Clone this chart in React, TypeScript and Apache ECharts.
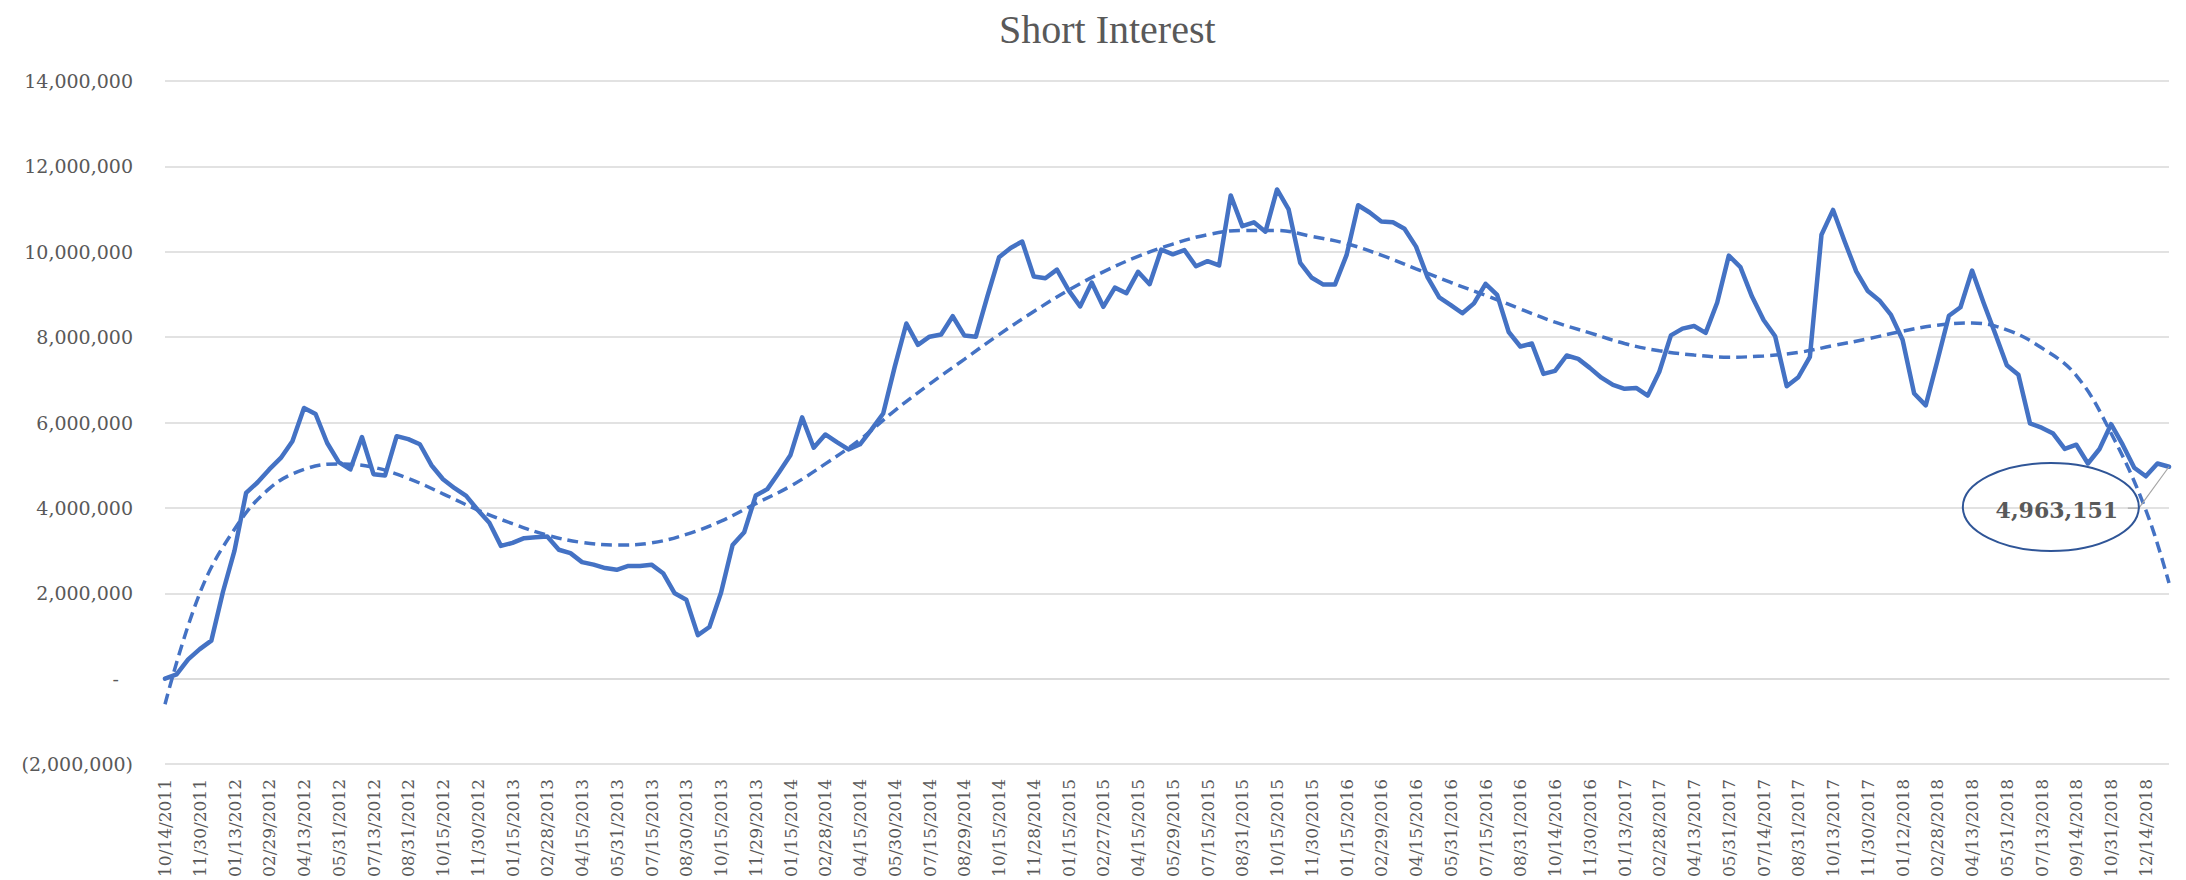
import React, { useEffect, useRef } from "react";
import * as echarts from "echarts";

const categories: string[] = [
  "10/14/2011", "10/31/2011", "11/15/2011", "11/30/2011", "12/15/2011", "12/30/2011",
  "01/13/2012", "01/31/2012", "02/15/2012", "02/29/2012", "03/15/2012", "03/30/2012",
  "04/13/2012", "04/30/2012", "05/15/2012", "05/31/2012", "06/15/2012", "06/29/2012",
  "07/13/2012", "07/31/2012", "08/15/2012", "08/31/2012", "09/14/2012", "09/28/2012",
  "10/15/2012", "10/31/2012", "11/15/2012", "11/30/2012", "12/14/2012", "12/31/2012",
  "01/15/2013", "01/31/2013", "02/15/2013", "02/28/2013", "03/15/2013", "03/28/2013",
  "04/15/2013", "04/30/2013", "05/15/2013", "05/31/2013", "06/14/2013", "06/28/2013",
  "07/15/2013", "07/31/2013", "08/15/2013", "08/30/2013", "09/13/2013", "09/30/2013",
  "10/15/2013", "10/31/2013", "11/15/2013", "11/29/2013", "12/13/2013", "12/31/2013",
  "01/15/2014", "01/31/2014", "02/14/2014", "02/28/2014", "03/14/2014", "03/31/2014",
  "04/15/2014", "04/30/2014", "05/15/2014", "05/30/2014", "06/13/2014", "06/30/2014",
  "07/15/2014", "07/31/2014", "08/15/2014", "08/29/2014", "09/15/2014", "09/30/2014",
  "10/15/2014", "10/31/2014", "11/14/2014", "11/28/2014", "12/15/2014", "12/31/2014",
  "01/15/2015", "01/30/2015", "02/13/2015", "02/27/2015", "03/13/2015", "03/31/2015",
  "04/15/2015", "04/30/2015", "05/15/2015", "05/29/2015", "06/15/2015", "06/30/2015",
  "07/15/2015", "07/31/2015", "08/14/2015", "08/31/2015", "09/15/2015", "09/30/2015",
  "10/15/2015", "10/30/2015", "11/13/2015", "11/30/2015", "12/15/2015", "12/31/2015",
  "01/15/2016", "01/29/2016", "02/12/2016", "02/29/2016", "03/15/2016", "03/31/2016",
  "04/15/2016", "04/29/2016", "05/13/2016", "05/31/2016", "06/15/2016", "06/30/2016",
  "07/15/2016", "07/29/2016", "08/15/2016", "08/31/2016", "09/15/2016", "09/30/2016",
  "10/14/2016", "10/31/2016", "11/15/2016", "11/30/2016", "12/15/2016", "12/30/2016",
  "01/13/2017", "01/31/2017", "02/15/2017", "02/28/2017", "03/15/2017", "03/31/2017",
  "04/13/2017", "04/28/2017", "05/15/2017", "05/31/2017", "06/15/2017", "06/30/2017",
  "07/14/2017", "07/31/2017", "08/15/2017", "08/31/2017", "09/15/2017", "09/29/2017",
  "10/13/2017", "10/31/2017", "11/15/2017", "11/30/2017", "12/15/2017", "12/29/2017",
  "01/12/2018", "01/31/2018", "02/15/2018", "02/28/2018", "03/15/2018", "03/29/2018",
  "04/13/2018", "04/30/2018", "05/15/2018", "05/31/2018", "06/15/2018", "06/29/2018",
  "07/13/2018", "07/31/2018", "08/31/2018", "09/14/2018", "09/28/2018", "10/15/2018",
  "10/31/2018", "11/15/2018", "11/30/2018", "12/14/2018", "12/31/2018", "01/15/2019",
];

const shortInterest: number[] = [
  0, 100000, 450000, 690000, 890000, 2030000, 3000000, 4350000, 4600000, 4900000,
  5170000, 5560000, 6340000, 6200000, 5520000, 5070000, 4900000, 5660000, 4790000, 4760000,
  5680000, 5610000, 5490000, 5000000, 4670000, 4460000, 4280000, 3950000, 3650000, 3110000,
  3180000, 3290000, 3310000, 3330000, 3020000, 2940000, 2730000, 2670000, 2590000, 2550000,
  2640000, 2640000, 2670000, 2470000, 2000000, 1850000, 1020000, 1210000, 2010000, 3130000,
  3430000, 4290000, 4440000, 4830000, 5240000, 6120000, 5410000, 5720000, 5540000, 5370000,
  5490000, 5840000, 6210000, 7310000, 8320000, 7820000, 8010000, 8060000, 8490000, 8040000,
  8010000, 8960000, 9870000, 10090000, 10240000, 9420000, 9380000, 9580000, 9100000, 8720000,
  9280000, 8710000, 9160000, 9030000, 9530000, 9240000, 10050000, 9940000, 10040000, 9660000,
  9780000, 9680000, 11320000, 10600000, 10690000, 10470000, 11460000, 10990000, 9740000, 9390000,
  9230000, 9230000, 9920000, 11090000, 10920000, 10710000, 10690000, 10540000, 10120000, 9400000,
  8930000, 8750000, 8560000, 8790000, 9250000, 8990000, 8120000, 7780000, 7850000, 7140000,
  7210000, 7570000, 7490000, 7280000, 7050000, 6880000, 6790000, 6810000, 6630000, 7190000,
  8040000, 8200000, 8260000, 8100000, 8810000, 9910000, 9640000, 8950000, 8400000, 8020000,
  6850000, 7060000, 7540000, 10400000, 10980000, 10240000, 9540000, 9080000, 8860000, 8520000,
  7940000, 6680000, 6400000, 7440000, 8500000, 8700000, 9560000, 8800000, 8080000, 7340000,
  7120000, 5980000, 5880000, 5740000, 5380000, 5480000, 5040000, 5380000, 5960000, 5480000,
  4940000, 4740000, 5040000, 4963151,
];

// trendline (dashed) at every third category
const trendIdx: number[] = [
  0, 3, 6, 9, 12, 15, 18, 21, 24, 27, 30, 33, 36, 39, 42, 45, 48, 51, 54, 57,
  60, 63, 66, 69, 72, 75, 78, 81, 84, 87, 90, 93, 96, 99, 102, 105, 108, 111, 114, 117,
  120, 123, 126, 129, 132, 135, 138, 141, 144, 147, 150, 153, 156, 159, 162, 165, 168, 171, 173,
];
const trendVal: number[] = [
  -600000, 2000000, 3500000, 4450000, 4900000, 5030000, 4950000, 4690000, 4330000, 3950000,
  3630000, 3360000, 3190000, 3130000, 3180000, 3380000, 3690000, 4100000, 4510000, 5030000,
  5600000, 6280000, 6900000, 7480000, 8060000, 8600000, 9100000, 9530000, 9890000, 10180000,
  10400000, 10500000, 10500000, 10360000, 10190000, 9920000, 9600000, 9280000, 8980000, 8660000,
  8350000, 8100000, 7850000, 7680000, 7580000, 7530000, 7560000, 7640000, 7800000, 7960000,
  8140000, 8280000, 8330000, 8170000, 7750000, 7100000, 5750000, 3950000, 2240000,
];

const yMin = -2000000;
const yMax = 14000000;
const yStep = 2000000;

// annotation anchor (category index, value) for the callout ellipse
const calloutAt: [number, number] = [162.8, 4020000];

const TEXT = "#595959";
const BLUE = "#4472C4";
const GRID = "#d9d9d9";

export default function App() {
  const ref = useRef<HTMLDivElement>(null);

  useEffect(() => {
    if (!ref.current) return;
    const chart = echarts.init(ref.current, undefined, { renderer: "svg" });
    const lastIdx = shortInterest.length - 1;

    chart.setOption({
      animation: false,
      backgroundColor: "#ffffff",
      title: {
        text: "Short Interest",
        left: 994,
        top: 4,
        textStyle: {
          fontFamily: "Liberation Serif",
          fontSize: 40,
          fontWeight: "normal",
          color: TEXT,
        },
      },
      grid: { left: 165, right: 17, top: 81, bottom: 35, containLabel: false },
      xAxis: [
        {
          type: "category",
          data: categories,
          boundaryGap: false,
          axisLine: { show: true, onZero: true, lineStyle: { color: GRID, width: 1.5 } },
          axisTick: { show: false },
          splitLine: { show: false },
          axisLabel: {
            interval: 2,
            rotate: 90,
            margin: 15,
            fontFamily: "DejaVu Serif",
            fontSize: 17,
            color: TEXT,
          },
        },
        {
          type: "value",
          min: 0,
          max: lastIdx,
          show: false,
        },
      ],
      yAxis: {
        type: "value",
        min: yMin,
        max: yMax,
        interval: yStep,
        axisLine: { show: false },
        axisTick: { show: false },
        splitLine: { show: true, lineStyle: { color: GRID, width: 1.5 } },
        axisLabel: {
          margin: 32,
          fontFamily: "DejaVu Serif",
          fontSize: 19,
          color: TEXT,
          formatter: (v: number) => {
            if (v === 0) return "{z|-}";
            if (v < 0) return "(" + Math.abs(v).toLocaleString("en-US") + ")";
            return v.toLocaleString("en-US");
          },
          rich: {
            z: {
              fontFamily: "DejaVu Serif",
              fontSize: 19,
              color: TEXT,
              padding: [0, 14, 0, 0],
            },
          },
        },
      },
      series: [
        {
          name: "Short Interest",
          type: "line",
          data: shortInterest,
          symbol: "none",
          showSymbol: false,
          z: 3,
          lineStyle: { color: BLUE, width: 4.5, join: "round", cap: "round" },
          itemStyle: { color: BLUE },
        },
        {
          name: "Trend",
          type: "line",
          xAxisIndex: 1,
          data: trendIdx.map((x, i) => [x, trendVal[i]]),
          smooth: 0.4,
          symbol: "none",
          showSymbol: false,
          z: 2,
          lineStyle: { color: BLUE, width: 3.5, type: [11, 6] },
          itemStyle: { color: BLUE },
        },
      ],
    });

    const c = chart.convertToPixel({ xAxisIndex: 1, yAxisIndex: 0 }, calloutAt) as number[];
    const p = chart.convertToPixel({ xAxisIndex: 1, yAxisIndex: 0 }, [
      lastIdx,
      shortInterest[lastIdx],
    ]) as number[];
    const rx = 88;
    const ry = 44;

    chart.setOption({
      graphic: [
        {
          type: "ellipse",
          shape: { cx: c[0], cy: c[1], rx, ry },
          style: { fill: "none", stroke: "#2F5597", lineWidth: 2 },
          z: 10,
        },
        {
          type: "text",
          x: c[0] + 6,
          y: c[1] + 3,
          style: {
            text: shortInterest[lastIdx].toLocaleString("en-US"),
            align: "center",
            verticalAlign: "middle",
            fontFamily: "DejaVu Serif",
            fontWeight: "bold",
            fontSize: 22,
            fill: TEXT,
          },
          z: 11,
        },
        {
          type: "polyline",
          shape: {
            points: [
              [c[0] + 77, c[1] + 1],
              [c[0] + rx, c[1] + 1],
              [p[0], p[1]],
            ],
          },
          style: { fill: "none", stroke: "#a6a6a6", lineWidth: 1.2 },
          z: 9,
        },
      ],
    });

    return () => chart.dispose();
  }, []);

  return (
    <div
      ref={ref}
      style={{ position: "fixed", left: 0, top: 0, width: 2186, height: 880, background: "#fff" }}
    />
  );
}
